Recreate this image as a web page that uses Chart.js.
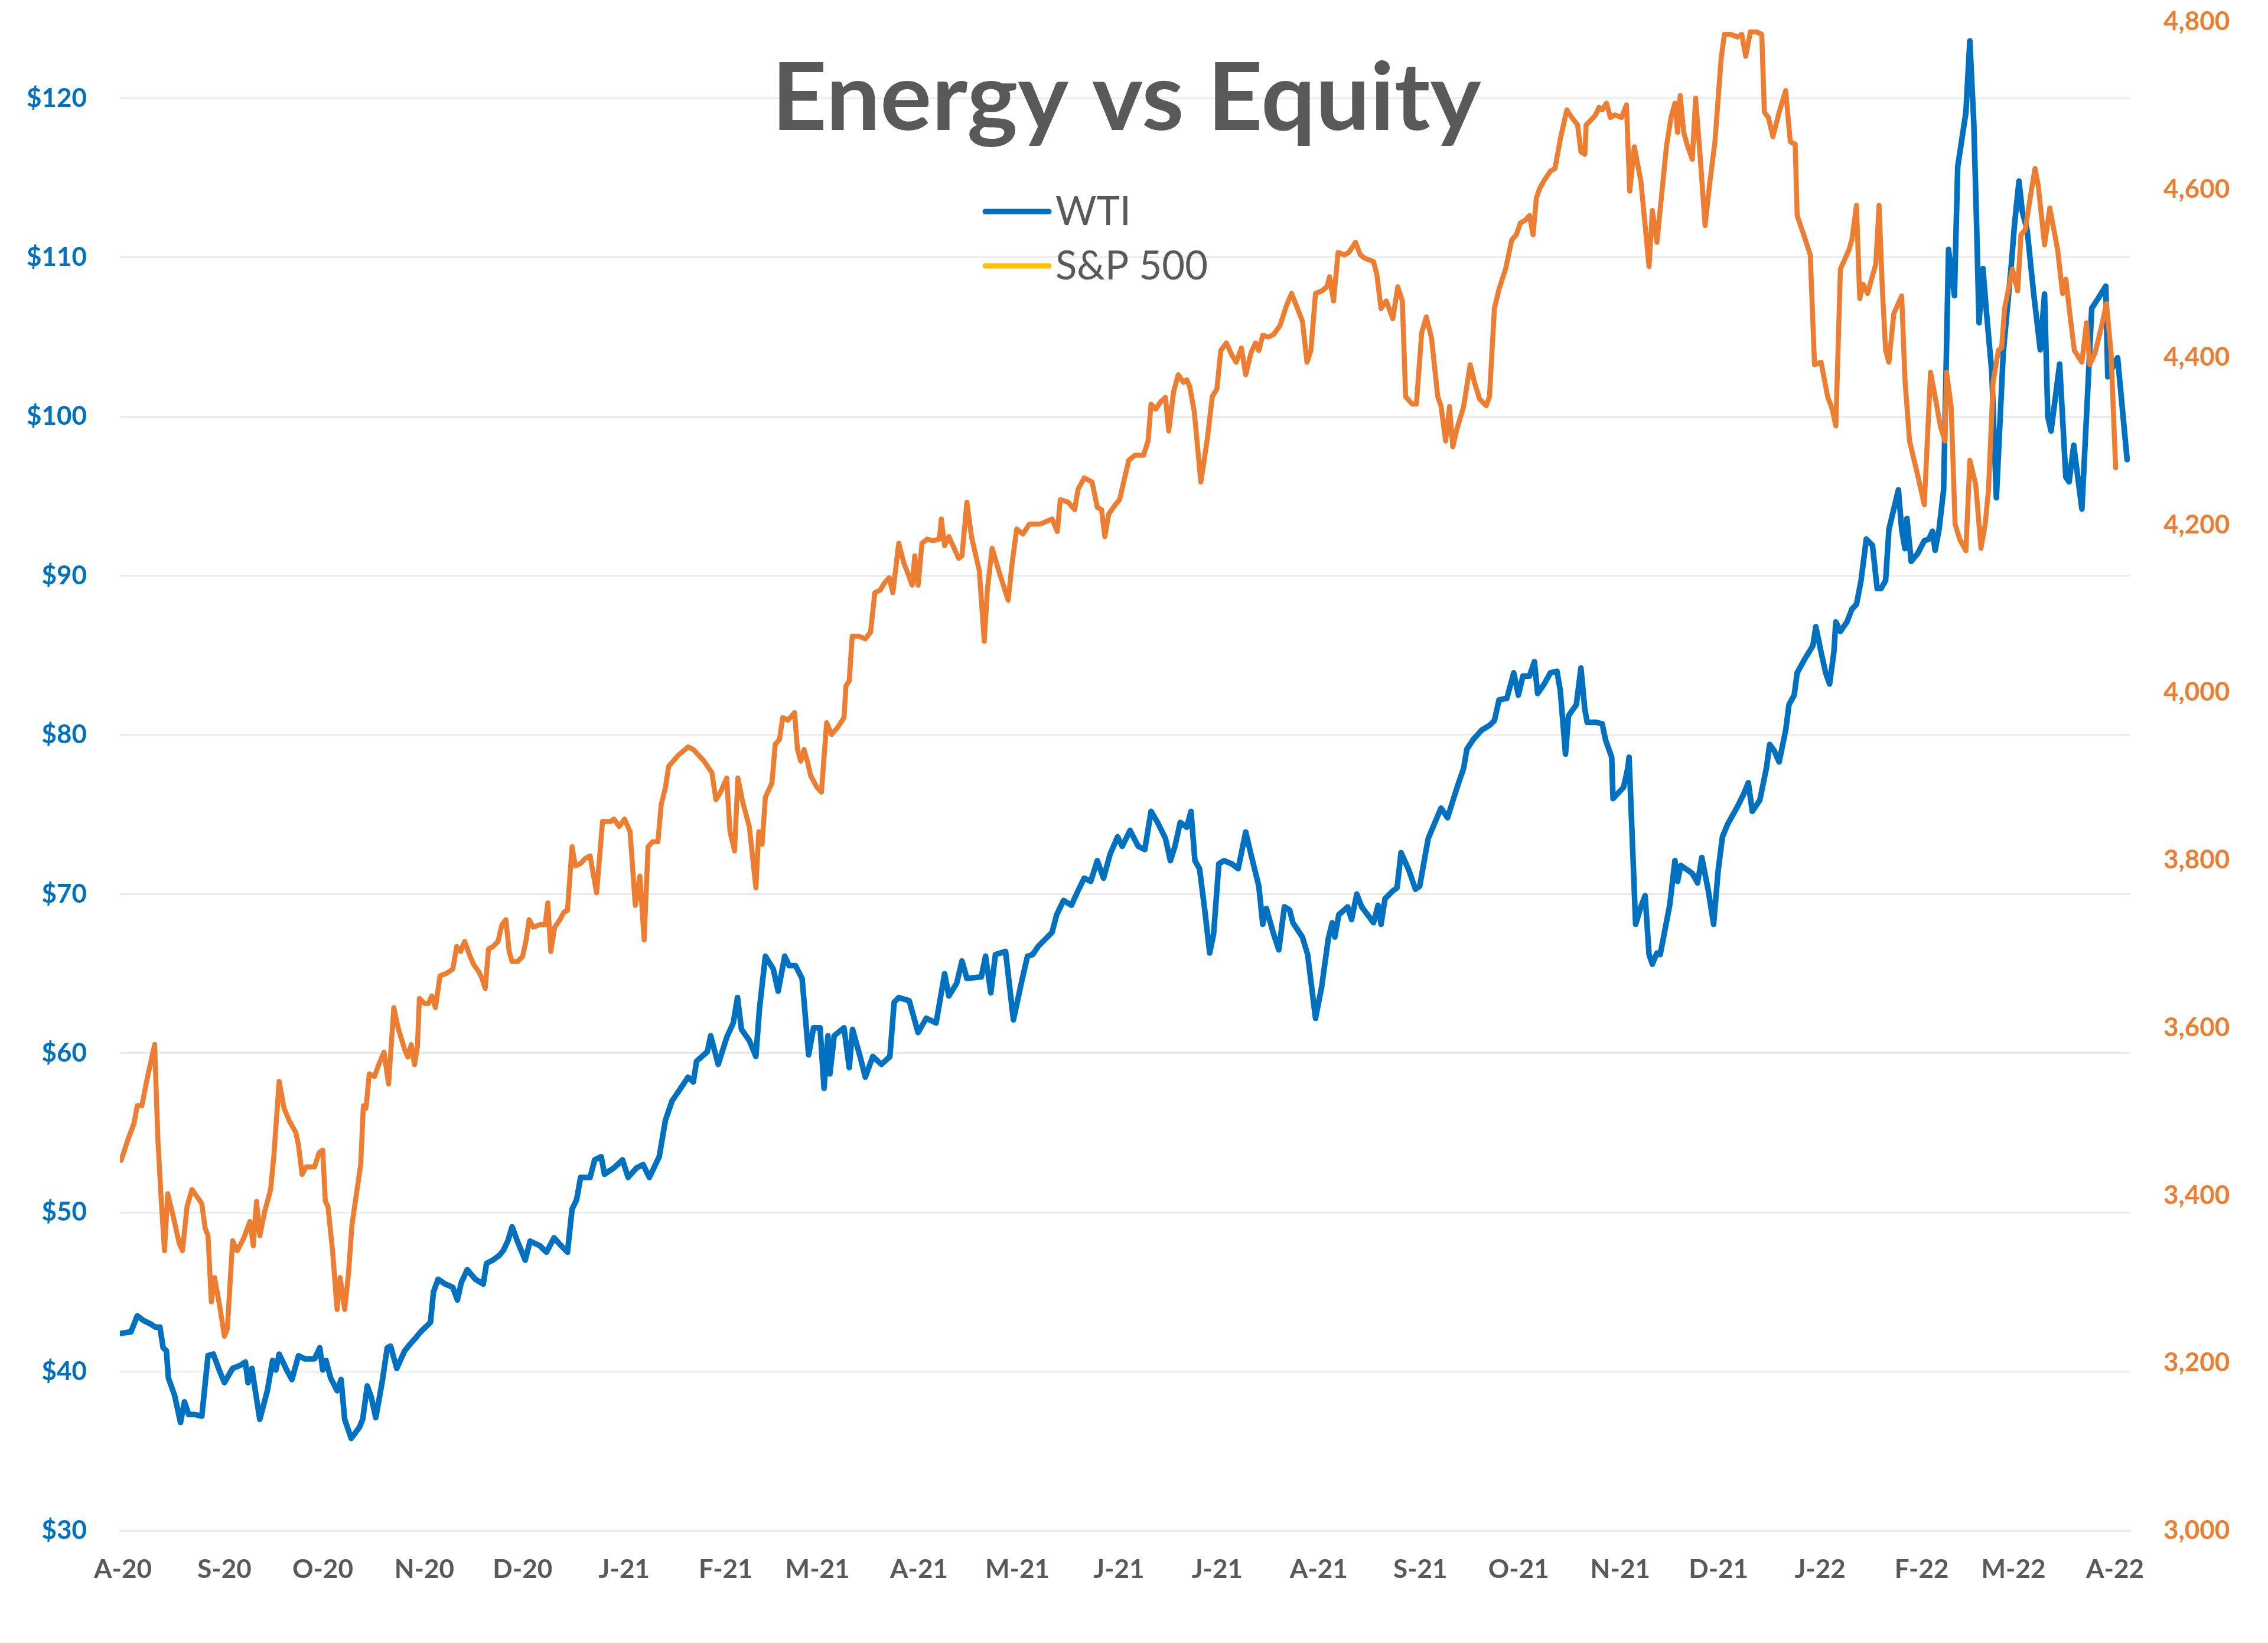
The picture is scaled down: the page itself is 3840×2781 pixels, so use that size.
<!DOCTYPE html>
<html>
<head>
<meta charset="utf-8">
<title>Energy vs Equity</title>
<script src="https://cdn.jsdelivr.net/npm/chart.js@4.4.1/dist/chart.umd.min.js"></script>
<style>
  html, body { margin: 0; padding: 0; background: #ffffff; }
  canvas { display: block; }
</style>
</head>
<body>
<canvas id="chart" width="3840" height="2781"></canvas>
<script>
// x values are calendar days counted from 1 Aug 2020 (the "A-20" tick)
const monthDays = [0, 31, 61, 92, 122, 153, 184, 212, 243, 273, 304, 334, 365, 396, 426, 457, 487, 518, 549, 577, 608];
const monthLabels = ["A-20", "S-20", "O-20", "N-20", "D-20", "J-21", "F-21", "M-21", "A-21", "M-21", "J-21",
  "J-21", "A-21", "S-21", "O-21", "N-21", "D-21", "J-22", "F-22", "M-22", "A-22"];

const wtiTicks = [30, 40, 50, 60, 70, 80, 90, 100, 110, 120];
const spxTicks = [3000, 3200, 3400, 3600, 3800, 4000, 4200, 4400, 4600, 4800];

// WTI crude, $ per barrel (left axis)
const wtiDays = [
  -0.5, 2.5, 4.4, 6.4, 8.4, 9.9, 11.3, 12.3, 13.3, 13.9,
  15.8, 17.6, 18.8, 20.1, 22.1, 24.1, 26.0, 27.6, 29.4, 31.0,
  33.5, 35.9, 37.4, 38.2, 39.4, 40.2, 41.8, 44.1, 45.7, 46.7,
  47.7, 50.0, 51.6, 53.6, 55.5, 58.5, 60.1, 61.0, 62.0, 63.4,
  65.4, 66.6, 67.7, 69.7, 72.2, 73.2, 74.6, 75.8, 77.2, 79.1,
  80.7, 81.7, 83.6, 86.0, 88.0, 89.3, 90.9, 93.9, 94.8, 96.2,
  98.4, 100.7, 102.1, 103.3, 105.1, 107.6, 110.0, 111.0, 112.9, 114.9,
  116.1, 117.5, 118.8, 120.4, 122.8, 124.3, 127.3, 129.3, 131.6, 133.8,
  135.7, 137.1, 138.5, 139.7, 142.6, 144.0, 146.0, 147.0, 149.9, 152.5,
  154.2, 156.8, 158.8, 160.7, 163.7, 165.6, 167.6, 169.6, 172.5, 174.1,
  175.1, 178.4, 179.4, 181.7, 184.3, 186.3, 187.6, 188.8, 191.2, 193.2,
  194.3, 196.1, 198.5, 200.0, 202.0, 203.4, 205.3, 207.3, 209.3, 210.8,
  212.8, 214.0, 215.2, 215.8, 217.1, 220.1, 221.7, 222.7, 225.0, 226.6,
  228.9, 231.5, 234.1, 235.4, 236.8, 240.0, 242.7, 245.2, 248.2, 250.8,
  252.1, 254.5, 256.1, 257.6, 262.0, 263.3, 264.9, 266.3, 269.4, 271.8,
  274.2, 276.1, 277.7, 279.3, 283.6, 285.0, 287.1, 289.5, 291.5, 293.4,
  295.4, 297.4, 299.3, 301.3, 303.6, 305.0, 307.4, 309.9, 311.9, 313.8,
  315.8, 318.2, 319.7, 321.1, 322.7, 324.7, 326.0, 327.2, 328.6, 330.2,
  331.7, 332.9, 334.5, 336.1, 338.4, 340.4, 342.7, 344.3, 346.7, 347.9,
  349.0, 351.2, 352.8, 354.5, 356.1, 357.1, 360.0, 361.6, 364.0, 365.9,
  367.9, 369.1, 369.9, 371.1, 373.8, 375.0, 376.6, 378.1, 381.7, 383.1,
  384.0, 385.2, 387.6, 388.9, 390.1, 392.5, 394.5, 395.8, 398.4, 402.3,
  404.3, 407.2, 409.2, 410.2, 412.1, 414.7, 417.1, 418.6, 420.0, 422.4,
  424.5, 425.9, 427.3, 429.3, 430.8, 431.8, 433.8, 435.7, 437.7, 438.7,
  440.3, 441.2, 443.6, 445.0, 446.2, 446.9, 449.5, 451.5, 452.5, 454.4,
  454.8, 458.0, 459.3, 459.7, 461.7, 463.3, 464.6, 465.8, 466.8, 468.2,
  469.2, 472.1, 473.7, 474.5, 475.5, 477.6, 479.0, 480.6, 481.9, 483.9,
  485.5, 486.9, 488.2, 489.8, 492.8, 494.7, 496.1, 497.3, 499.6, 501.6,
  502.6, 504.0, 505.5, 507.5, 508.5, 510.1, 511.0, 513.4, 515.8, 516.7,
  518.3, 519.7, 520.9, 522.2, 522.8, 524.2, 526.2, 527.7, 529.1, 530.5,
  532.1, 534.0, 535.4, 536.6, 538.0, 539.0, 540.5, 541.9, 542.9, 543.9,
  544.5, 545.8, 547.8, 549.8, 551.2, 552.3, 553.1, 554.3, 555.7, 557.2,
  559.0, 560.0, 562.5, 563.7, 564.9, 565.7, 566.5, 567.7, 568.8, 570.4,
  571.8, 573.9, 576.3, 577.3, 578.7, 579.7, 581.2, 583.2, 585.2, 586.5,
  587.5, 588.5, 591.1, 593.0, 594.0, 595.4, 597.9, 599.3, 600.9, 602.8,
  605.2, 605.8, 608.8, 611.7
];
const wtiPrice = [
  42.4, 42.5, 43.5, 43.2, 43.0, 42.8, 42.8, 41.5, 41.3, 39.6,
  38.5, 36.8, 38.1, 37.3, 37.3, 37.2, 41.0, 41.1, 40.1, 39.3,
  40.2, 40.4, 40.6, 39.3, 40.2, 39.1, 37.0, 38.8, 40.7, 40.1,
  41.1, 40.1, 39.5, 41.0, 40.8, 40.8, 41.5, 40.1, 40.7, 39.6,
  38.8, 39.5, 37.0, 35.8, 36.5, 37.0, 39.1, 38.4, 37.1, 39.3,
  41.5, 41.6, 40.2, 41.3, 41.8, 42.1, 42.5, 43.1, 45.0, 45.8,
  45.5, 45.3, 44.5, 45.6, 46.4, 45.8, 45.5, 46.8, 47.0, 47.3,
  47.6, 48.2, 49.1, 48.2, 47.0, 48.2, 47.9, 47.5, 48.4, 47.9,
  47.5, 50.2, 50.8, 52.2, 52.2, 53.3, 53.5, 52.4, 52.8, 53.3,
  52.2, 52.8, 53.0, 52.2, 53.5, 55.8, 57.0, 57.6, 58.5, 58.2,
  59.5, 60.1, 61.1, 59.3, 61.0, 61.9, 63.5, 61.5, 60.8, 59.8,
  62.8, 66.1, 65.3, 63.9, 66.1, 65.5, 65.5, 64.7, 59.9, 61.6,
  61.6, 57.8, 61.1, 58.7, 61.1, 61.6, 59.1, 61.5, 59.8, 58.5,
  59.8, 59.3, 59.8, 63.2, 63.5, 63.3, 61.3, 62.2, 61.9, 65.0,
  63.6, 64.4, 65.8, 64.7, 64.8, 66.1, 63.8, 66.2, 66.4, 62.1,
  64.4, 66.1, 66.2, 66.7, 67.6, 68.7, 69.6, 69.3, 70.2, 71.0,
  70.8, 72.1, 71.0, 72.5, 73.6, 73.0, 74.0, 73.0, 72.8, 75.2,
  74.5, 73.5, 72.1, 73.0, 74.5, 74.2, 75.2, 72.1, 71.6, 69.0,
  66.3, 67.5, 71.9, 72.1, 71.9, 71.6, 73.9, 72.5, 70.5, 68.1,
  69.1, 67.5, 66.5, 69.2, 69.0, 68.2, 67.3, 66.2, 62.2, 64.2,
  67.2, 68.2, 67.3, 68.7, 69.2, 68.4, 70.0, 69.2, 68.2, 69.3,
  68.1, 69.7, 70.2, 70.4, 72.6, 71.5, 70.3, 70.5, 73.5, 75.4,
  74.8, 76.7, 77.9, 79.1, 79.7, 80.3, 80.6, 80.9, 82.2, 82.3,
  83.9, 82.5, 83.7, 83.7, 84.6, 82.6, 83.2, 83.9, 84.0, 82.8,
  78.8, 81.2, 81.9, 84.2, 81.6, 80.8, 80.8, 80.7, 79.7, 78.6,
  76.0, 76.7, 77.9, 78.6, 68.1, 69.2, 69.9, 66.2, 65.6, 66.3,
  66.2, 69.3, 72.1, 70.8, 71.8, 71.5, 71.3, 70.7, 72.3, 70.2,
  68.1, 71.5, 73.6, 74.4, 75.5, 76.3, 77.0, 75.2, 75.9, 77.9,
  79.4, 79.0, 78.3, 80.3, 81.9, 82.5, 83.9, 84.8, 85.6, 86.8,
  85.2, 83.9, 83.2, 85.2, 87.1, 86.5, 87.1, 87.9, 88.2, 89.7,
  92.3, 91.9, 89.2, 89.2, 89.7, 92.9, 94.2, 95.4, 92.9, 91.7,
  93.6, 90.9, 91.4, 92.2, 92.3, 92.8, 91.6, 92.9, 95.4, 110.5,
  107.6, 115.7, 119.1, 123.6, 118.5, 112.6, 105.9, 109.3, 106.5, 102.8,
  94.9, 104.0, 109.4, 112.0, 114.8, 112.9, 111.7, 107.7, 104.2, 107.7,
  100.0, 99.1, 103.3, 96.2, 95.9, 98.2, 94.2, 100.0, 106.8, 107.4,
  108.2, 102.5, 103.7, 97.3
];

// S&P 500 index level (right axis)
const spxDays = [
  -0.5, 1.5, 3.4, 4.4, 5.8, 7.4, 9.7, 10.7, 11.7, 12.7,
  13.7, 15.2, 17.2, 18.2, 19.6, 21.1, 23.1, 24.1, 25.1, 26.0,
  27.0, 28.0, 29.6, 31.0, 31.9, 33.5, 34.9, 36.9, 38.8, 39.8,
  40.8, 41.8, 43.3, 45.1, 46.1, 47.7, 49.2, 50.8, 52.8, 53.6,
  54.7, 55.9, 58.5, 59.9, 61.0, 61.8, 62.6, 64.0, 65.4, 66.3,
  67.7, 68.9, 69.9, 71.3, 72.6, 73.4, 74.2, 75.2, 76.8, 78.1,
  79.7, 81.1, 82.7, 84.0, 86.0, 87.0, 88.0, 89.0, 89.9, 90.5,
  92.1, 93.3, 94.3, 95.4, 96.8, 98.8, 100.7, 101.9, 103.1, 104.3,
  105.7, 107.0, 108.6, 109.6, 110.6, 111.6, 113.0, 114.5, 115.7, 116.9,
  117.9, 118.8, 120.4, 122.0, 123.0, 124.0, 125.3, 127.3, 128.9, 129.7,
  130.6, 131.8, 133.4, 134.6, 135.7, 137.1, 138.1, 139.7, 141.1, 142.6,
  144.6, 146.4, 148.9, 149.9, 151.5, 153.1, 154.8, 156.4, 157.8, 159.1,
  160.3, 161.7, 163.3, 164.3, 165.6, 166.6, 169.5, 172.5, 174.1, 177.4,
  179.8, 181.0, 182.4, 184.3, 185.3, 186.7, 187.7, 189.2, 191.2, 193.2,
  194.1, 195.1, 196.1, 198.1, 199.1, 200.4, 201.4, 203.0, 205.0, 205.9,
  206.9, 207.9, 208.9, 209.9, 211.8, 213.2, 214.8, 216.3, 218.1, 220.1,
  220.7, 221.7, 222.6, 224.6, 226.6, 228.2, 229.5, 231.1, 232.5, 233.9,
  235.0, 236.8, 238.4, 239.8, 240.9, 241.7, 242.7, 243.9, 245.5, 247.2,
  249.2, 249.8, 250.8, 252.1, 253.7, 255.1, 256.1, 257.6, 259.0, 261.4,
  262.9, 263.9, 265.3, 267.5, 270.2, 271.4, 272.8, 274.7, 276.7, 280.1,
  283.6, 285.2, 286.1, 288.5, 290.5, 291.5, 293.4, 295.8, 297.4, 298.7,
  299.7, 300.9, 302.9, 304.2, 307.0, 308.9, 311.5, 312.9, 313.8, 315.2,
  316.8, 318.2, 319.2, 320.7, 322.1, 323.7, 324.7, 325.6, 327.0, 329.0,
  331.0, 332.5, 333.9, 335.1, 336.8, 338.4, 339.8, 341.4, 342.7, 344.3,
  345.7, 346.7, 347.9, 349.6, 351.2, 353.2, 355.1, 356.7, 358.5, 360.0,
  361.4, 362.6, 364.0, 365.9, 367.5, 368.3, 369.5, 370.9, 372.8, 374.2,
  376.2, 377.7, 379.1, 381.7, 382.7, 384.0, 385.6, 387.6, 389.1, 390.5,
  391.5, 393.5, 394.8, 396.4, 397.8, 399.4, 401.3, 402.3, 403.7, 404.9,
  405.9, 407.2, 409.2, 411.2, 412.5, 414.1, 416.1, 417.1, 418.6, 420.0,
  422.0, 423.9, 425.3, 426.5, 427.9, 429.3, 430.4, 431.4, 432.4, 433.8,
  435.7, 437.1, 438.7, 440.7, 442.2, 444.0, 445.0, 446.2, 446.6, 448.1,
  449.5, 450.5, 451.5, 452.8, 454.0, 455.4, 457.4, 458.9, 459.9, 461.3,
  463.3, 464.6, 465.8, 466.8, 468.2, 469.6, 471.1, 472.5, 473.7, 474.5,
  475.3, 476.4, 477.6, 479.0, 480.0, 481.4, 482.9, 484.3, 485.9, 487.8,
  488.8, 490.8, 492.8, 494.1, 495.3, 496.7, 498.7, 500.2, 501.0, 502.2,
  503.6, 505.5, 507.5, 508.9, 510.4, 511.0, 513.0, 515.0, 516.3, 518.3,
  520.3, 521.7, 522.8, 524.2, 526.8, 527.7, 529.1, 530.1, 531.1, 532.5,
  533.7, 535.0, 536.0, 537.0, 538.0, 539.0, 540.5, 542.9, 543.9, 545.3,
  547.8, 549.8, 550.8, 551.7, 553.1, 554.7, 556.1, 556.6, 558.0, 559.2,
  560.6, 562.5, 563.7, 565.5, 567.1, 568.4, 569.4, 570.8, 572.4, 573.4,
  574.3, 576.7, 578.3, 579.3, 580.6, 582.2, 583.6, 584.6, 586.5, 588.1,
  590.5, 592.0, 593.0, 594.4, 595.6, 597.9, 599.3, 600.3, 601.9, 603.8,
  605.4, 606.8, 608.2
];
const spxLevel = [
  3442, 3466, 3486, 3507, 3507, 3539, 3580, 3466, 3396, 3334,
  3402, 3378, 3343, 3334, 3387, 3407, 3396, 3390, 3361, 3352,
  3273, 3302, 3267, 3232, 3241, 3346, 3334, 3349, 3369, 3340,
  3393, 3352, 3381, 3407, 3448, 3536, 3504, 3489, 3475, 3460,
  3425, 3434, 3434, 3451, 3454, 3393, 3387, 3334, 3264, 3302,
  3264, 3308, 3364, 3402, 3437, 3507, 3504, 3545, 3542, 3556,
  3571, 3533, 3624, 3600, 3574, 3565, 3580, 3556, 3577, 3635,
  3629, 3629, 3638, 3624, 3662, 3665, 3670, 3697, 3691, 3703,
  3688, 3676, 3667, 3659, 3647, 3694, 3697, 3703, 3723, 3729,
  3691, 3679, 3679, 3685, 3703, 3729, 3720, 3723, 3723, 3749,
  3691, 3720, 3729, 3738, 3740, 3816, 3793, 3796, 3802, 3805,
  3761, 3846, 3846, 3849, 3840, 3849, 3834, 3746, 3781, 3705,
  3816, 3822, 3822, 3866, 3887, 3912, 3925, 3935, 3932, 3918,
  3904, 3872, 3881, 3898, 3834, 3811, 3898, 3869, 3840, 3767,
  3834, 3819, 3875, 3892, 3938, 3944, 3970, 3967, 3976, 3932,
  3918, 3932, 3918, 3901, 3887, 3881, 3964, 3950, 3958, 3970,
  4008, 4014, 4067, 4067, 4064, 4072, 4119, 4122, 4131, 4137,
  4119, 4178, 4154, 4140, 4128, 4163, 4128, 4178, 4183, 4181,
  4183, 4207, 4175, 4186, 4172, 4160, 4163, 4227, 4186, 4145,
  4061, 4125, 4172, 4143, 4110, 4154, 4195, 4189, 4201, 4201,
  4207, 4192, 4230, 4227, 4218, 4242, 4256, 4251, 4221, 4218,
  4186, 4213, 4224, 4230, 4277, 4283, 4283, 4300, 4344, 4338,
  4347, 4352, 4312, 4359, 4379, 4370, 4373, 4365, 4335, 4251,
  4303, 4353, 4362, 4408, 4417, 4403, 4394, 4411, 4379, 4405,
  4417, 4408, 4426, 4424, 4427, 4438, 4461, 4476, 4458, 4443,
  4394, 4408, 4476, 4479, 4484, 4496, 4467, 4525, 4522, 4525,
  4537, 4522, 4518, 4514, 4499, 4458, 4467, 4446, 4484, 4467,
  4353, 4344, 4344, 4429, 4448, 4423, 4353, 4342, 4300, 4341,
  4293, 4315, 4341, 4391, 4370, 4350, 4342, 4353, 4458, 4481,
  4505, 4540, 4546, 4560, 4563, 4569, 4546, 4590, 4601, 4611,
  4622, 4625, 4660, 4695, 4686, 4677, 4645, 4642, 4677, 4683,
  4689, 4698, 4695, 4703, 4686, 4689, 4686, 4701, 4598, 4651,
  4610, 4557, 4508, 4575, 4537, 4592, 4651, 4686, 4703, 4668,
  4712, 4668, 4651, 4636, 4709, 4639, 4557, 4607, 4657, 4756,
  4785, 4785, 4782, 4785, 4759, 4788, 4788, 4785, 4692, 4686,
  4663, 4692, 4718, 4657, 4654, 4569, 4546, 4522, 4391, 4394,
  4353, 4338, 4318, 4505, 4528, 4540, 4581, 4470, 4487, 4476,
  4493, 4511, 4581, 4481, 4408, 4394, 4452, 4473, 4373, 4300,
  4259, 4224, 4306, 4382, 4353, 4318, 4300, 4382, 4341, 4201,
  4183, 4169, 4277, 4248, 4172, 4201, 4242, 4370, 4408, 4411,
  4458, 4505, 4479, 4546, 4552, 4592, 4625, 4604, 4534, 4578,
  4528, 4476, 4493, 4446, 4408, 4394, 4441, 4391, 4405, 4435,
  4464, 4405, 4268
];

const WTI_BLUE = '#0070C0';
const SPX_ORANGE = '#ED7D31';
const SPX_LEGEND = '#FFC000';
const TEXT_GREY = '#595959';

function toPoints(xs, ys) {
  return xs.map((x, i) => ({ x: x, y: ys[i] }));
}

const tickFont = { family: 'Lato', weight: 'bold', size: 44 };

// keep the plot box where the original has it: no extra room for edge labels
function fixBox(prop, size) {
  return s => {
    s[prop] = size;
    s.paddingTop = 0;
    s.paddingBottom = 0;
    s.paddingLeft = 0;
    s.paddingRight = 0;
  };
}

// title and the legend sit inside the plot, like the spreadsheet original
const overlayPlugin = {
  id: 'overlay',
  afterDraw(chart) {
    const ctx = chart.ctx;
    ctx.save();
    ctx.fillStyle = TEXT_GREY;
    ctx.font = 'bold 160px Lato';
    ctx.textAlign = 'center';
    ctx.textBaseline = 'alphabetic';
    const title = 'Energy vs Equity';
    const w = ctx.measureText(title).width;
    ctx.translate(1907, 220);
    ctx.scale(1201 / w, 1);
    ctx.fillText(title, 0, 0);
    ctx.restore();

    const items = [
      { text: 'WTI', color: WTI_BLUE, y: 358 },
      { text: 'S&P 500', color: SPX_LEGEND, y: 450 }
    ];
    ctx.save();
    ctx.font = '67px Lato';
    ctx.textAlign = 'left';
    ctx.textBaseline = 'middle';
    items.forEach(it => {
      ctx.strokeStyle = it.color;
      ctx.lineWidth = 9;
      ctx.lineCap = 'round';
      ctx.beginPath();
      ctx.moveTo(1668, it.y);
      ctx.lineTo(1776, it.y);
      ctx.stroke();
      ctx.fillStyle = TEXT_GREY;
      ctx.fillText(it.text, 1787, it.y + 1);
    });
    ctx.restore();
  }
};

new Chart(document.getElementById('chart'), {
  type: 'line',
  data: {
    datasets: [
      {
        label: 'WTI',
        data: toPoints(wtiDays, wtiPrice),
        yAxisID: 'y',
        borderColor: WTI_BLUE,
        backgroundColor: WTI_BLUE,
        borderWidth: 9.5,
        pointRadius: 0,
        borderJoinStyle: 'round',
        borderCapStyle: 'round',
        order: 2
      },
      {
        label: 'S&P 500',
        data: toPoints(spxDays, spxLevel),
        yAxisID: 'y2',
        borderColor: SPX_ORANGE,
        backgroundColor: SPX_LEGEND,
        borderWidth: 8.5,
        pointRadius: 0,
        borderJoinStyle: 'round',
        borderCapStyle: 'round',
        order: 1
      }
    ]
  },
  options: {
    responsive: false,
    animation: false,
    devicePixelRatio: 1,
    layout: { padding: { top: 37, left: 0, right: 0, bottom: 0 } },
    plugins: {
      legend: { display: false },
      tooltip: { enabled: false }
    },
    scales: {
      x: {
        type: 'linear',
        min: -0.9,
        max: 612.7,
        afterBuildTicks: s => { s.ticks = monthDays.map(v => ({ value: v })); },
        afterFit: fixBox('height', 190),
        grid: { display: false, drawTicks: false },
        border: { display: false },
        ticks: {
          autoSkip: false,
          maxRotation: 0,
          padding: 39,
          color: TEXT_GREY,
          font: tickFont,
          callback: (v, i) => monthLabels[i]
        }
      },
      y: {
        position: 'left',
        min: 30,
        max: 124.8,
        afterBuildTicks: s => { s.ticks = wtiTicks.map(v => ({ value: v })); },
        afterFit: fixBox('width', 203),
        grid: { color: '#EBEBEB', lineWidth: 3, drawTicks: false },
        border: { display: false },
        ticks: {
          padding: 56,
          color: WTI_BLUE,
          font: tickFont,
          callback: v => '$' + v
        }
      },
      y2: {
        position: 'right',
        min: 3000,
        max: 4800,
        afterBuildTicks: s => { s.ticks = spxTicks.map(v => ({ value: v })); },
        afterFit: fixBox('width', 233),
        grid: { display: false, drawTicks: false },
        border: { display: false },
        ticks: {
          padding: 56,
          color: SPX_ORANGE,
          font: tickFont,
          callback: v => v.toLocaleString('en-US')
        }
      }
    }
  },
  plugins: [overlayPlugin]
});
</script>
</body>
</html>
